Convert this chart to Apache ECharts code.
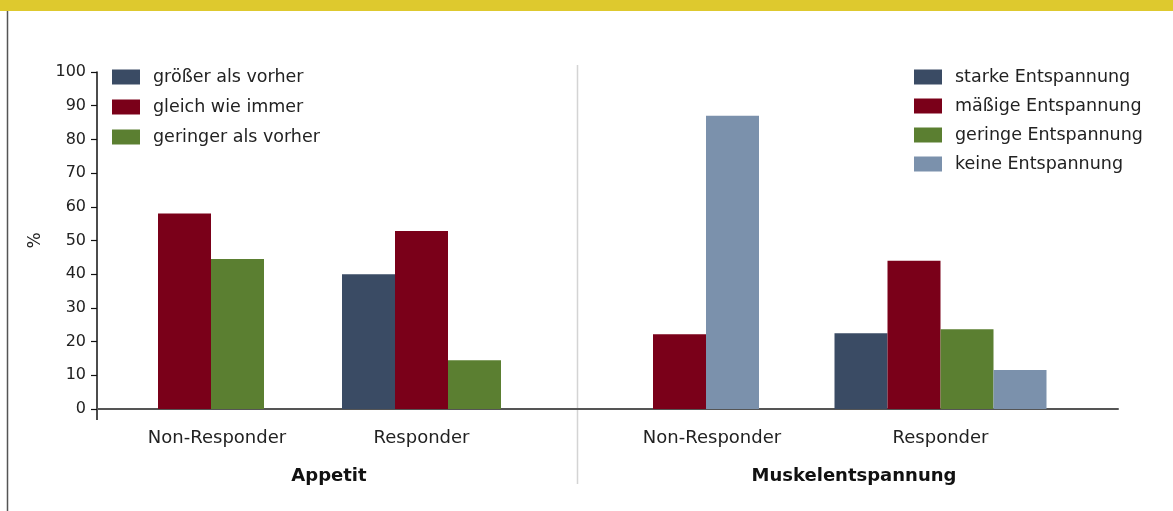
<!DOCTYPE html>
<html>
<head>
<meta charset="utf-8">
<script src="https://cdn.jsdelivr.net/npm/echarts@6/dist/echarts.min.js"></script>
<style>
  html, body { margin: 0; padding: 0; background: #fff; }
  #main { width: 1173px; height: 511px; }
</style>
</head>
<body>
<div id="main"></div>
<script>
// subgroups on the x axis, same order in every value array
const subgroups = ["Non-Responder", "Responder"];
const yTicks = [0, 10, 20, 30, 40, 50, 60, 70, 80, 90, 100];

// Appetit
const appetitNames = ["größer als vorher", "gleich wie immer", "geringer als vorher"];
const appetitGroesser = [null, 40];
const appetitGleich = [58, 52.8];
const appetitGeringer = [44.5, 14.5];

// Muskelentspannung
const muskelNames = ["starke Entspannung", "mäßige Entspannung", "geringe Entspannung", "keine Entspannung"];
const muskelStark = [null, 22.5];
const muskelMaessig = [22.2, 44];
const muskelGering = [null, 23.7];
const muskelKeine = [87, 11.6];

window.onload = function () {
  const myChart = echarts.init(document.getElementById("main"));

  const FONT = "DejaVu Sans";
  const colors = ["#3a4b64", "#7a0019", "#5b7f31", "#7b91ac"];
  const TOP = 72, BOTTOM = 102, BAR_W = 53;

  const groups = [
    { names: appetitNames, values: [appetitGroesser, appetitGleich, appetitGeringer], centers: [211, 421.5] },
    { names: muskelNames, values: [muskelStark, muskelMaessig, muskelGering, muskelKeine], centers: [706, 940.5] }
  ];

  const grids = [{ left: 97, right: 55, top: TOP, bottom: BOTTOM }];
  const xAxes = [{
    gridIndex: 0, type: "category", data: [""],
    axisLine: { show: true, lineStyle: { color: "#555", width: 2 } },
    axisTick: { show: false }, axisLabel: { show: false }
  }];
  const yAxes = [{
    gridIndex: 0, type: "value", min: 0, max: 100, interval: 10,
    name: "%", nameLocation: "middle", nameRotate: 90, nameGap: 42,
    nameTextStyle: { fontFamily: FONT, fontSize: 17, color: "#222" },
    axisLine: { show: true, lineStyle: { color: "#111", width: 1.5 } },
    axisTick: { show: true, length: 6, lineStyle: { color: "#111", width: 1.2 } },
    axisLabel: { margin: 11, fontFamily: FONT, fontSize: 16, color: "#222",
      formatter: v => (yTicks.indexOf(v) >= 0 ? String(v) : "") },
    splitLine: { show: false }
  }];
  const series = [];

  groups.forEach(g => {
    subgroups.forEach((sub, si) => {
      const gi = grids.length;
      grids.push({ left: g.centers[si] - 120, width: 240, top: TOP, bottom: BOTTOM });
      xAxes.push({
        gridIndex: gi, type: "category", data: [sub],
        axisLine: { show: false }, axisTick: { show: false },
        axisLabel: { margin: 20, fontFamily: FONT, fontSize: 18, color: "#222",
          padding: [0, 0, 0, si === 0 ? 12 : 0] }
      });
      yAxes.push({ gridIndex: gi, type: "value", min: 0, max: 100, show: false });
      g.names.forEach((name, k) => {
        const v = g.values[k][si];
        if (v === null) return;
        series.push({
          name: name, type: "bar", xAxisIndex: gi, yAxisIndex: gi,
          data: [v], barWidth: BAR_W, barGap: "0%",
          itemStyle: { color: colors[k] }
        });
      });
    });
  });

  const legendBase = {
    orient: "vertical", top: 68, padding: 0, icon: "rect",
    itemWidth: 28, itemHeight: 15, itemGap: 11,
    selectedMode: false,
    textStyle: { fontFamily: FONT, fontSize: 17.5, color: "#222", padding: [0, 0, 0, 8] }
  };

  const options = {
    animation: false,
    backgroundColor: "#fff",
    grid: grids,
    xAxis: xAxes,
    yAxis: yAxes,
    legend: [
      Object.assign({}, legendBase, { left: 112, itemGap: 12, data: appetitNames }),
      Object.assign({}, legendBase, { left: 914, data: muskelNames })
    ],
    series: series,
    graphic: [
      { type: "rect", shape: { x: 0, y: 0, width: 1173, height: 11 }, style: { fill: "#dec92e" } },
      { type: "line", shape: { x1: 7.5, y1: 11, x2: 7.5, y2: 511 }, style: { stroke: "#555", lineWidth: 1.5 } },
      { type: "line", shape: { x1: 577.5, y1: 65, x2: 577.5, y2: 484 }, style: { stroke: "#d4d4d4", lineWidth: 1.5 } },
      { type: "line", shape: { x1: 97, y1: 409, x2: 97, y2: 420 }, style: { stroke: "#111", lineWidth: 1.5 } },
      { type: "text", x: 329, y: 476, style: { text: "Appetit", font: "bold 18px 'DejaVu Sans'", fill: "#111", textAlign: "center", textVerticalAlign: "middle" } },
      { type: "text", x: 854, y: 476, style: { text: "Muskelentspannung", font: "bold 18px 'DejaVu Sans'", fill: "#111", textAlign: "center", textVerticalAlign: "middle" } }
    ]
  };

  myChart.setOption(options);
};
</script>
</body>
</html>
